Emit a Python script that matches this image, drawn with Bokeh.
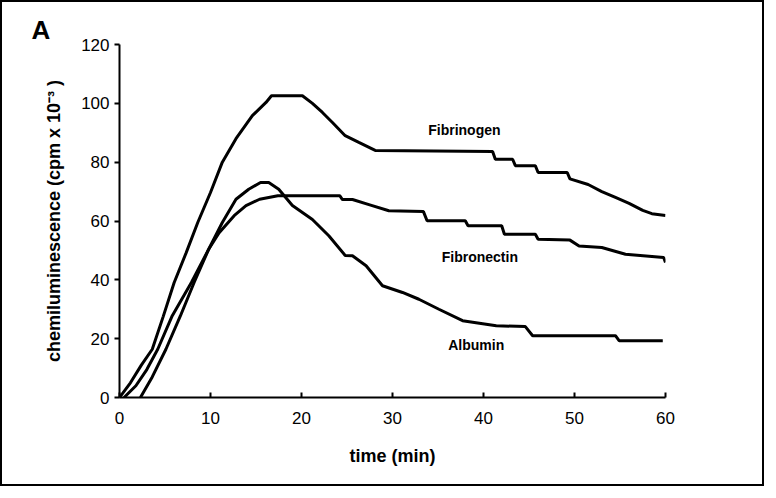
from bokeh.plotting import figure
from bokeh.models import Range1d, FixedTicker, Label
from bokeh.embed import file_html
from bokeh.resources import INLINE

# ---- data ----
fibrinogen_t = [0, 1.2, 2.4, 3.6, 4.8, 6.0, 7.3, 8.6, 10.0, 11.3, 12.8, 14.6, 16.1, 16.7, 20.1,
                21.2, 22.3, 23.4, 24.8, 26.3, 28.1, 41.0, 41.3, 43.2, 43.5, 45.7, 46.0, 49.2,
                49.5, 51.5, 53.0, 54.5, 56.0, 57.5, 58.5, 60.0]
fibrinogen_v = [0, 5, 11, 16.4, 27.5, 39, 49, 59.5, 69.7, 80, 88, 95.8, 100.3, 102.6, 102.6,
                100, 96.9, 93.5, 89, 86.7, 84, 83.6, 81, 81, 78.8, 78.8, 76.5, 76.5,
                74.3, 72.4, 70, 68, 66, 63.6, 62.5, 61.9]

fibronectin_t = [2.3, 3.6, 5.1, 6.7, 8.2, 9.8, 10.95, 12.6, 13.9, 15.4, 17.4, 24.2, 24.5,
                 25.6, 27.5, 29.6, 33.4, 33.8, 38.0, 38.3, 42.0, 42.3, 45.7, 46.0, 49.5,
                 50.5, 53.0, 55.6, 59.8, 60.0]
fibronectin_v = [0, 7, 16.4, 27.8, 39.1, 50.4, 56, 61.8, 65.2, 67.4, 68.6, 68.6, 67.3,
                 67.3, 65.5, 63.5, 63.2, 60.1, 60.1, 58.4, 58.4, 55.5, 55.5, 53.8, 53.5,
                 51.5, 51, 48.7, 47.6, 45.9]

albumin_t = [0.5, 1.8, 3.0, 4.2, 5.8, 7.9, 9.8, 11.3, 12.8, 14.2, 15.5, 16.4, 17.5, 19.0,
             21.2, 23.0, 24.8, 25.6, 27.1, 28.9, 31.1, 32.9, 35.1, 37.7, 41.4, 44.6, 45.4,
             54.5, 54.9, 59.7]
albumin_v = [0, 4, 9.5, 16.4, 27.8, 39.1, 50.4, 59.5, 67.4, 70.8, 73.1, 73.1, 70.8, 65.3,
             60.5, 55, 48.3, 48.2, 44.8, 38, 35.7, 33.4, 30, 26.1, 24.4, 24.1, 21,
             21, 19.3, 19.3]

x_ticks = [0, 10, 20, 30, 40, 50, 60]
y_ticks = [0, 20, 40, 60, 80, 100, 120]
series_names = ["Fibrinogen", "Fibronectin", "Albumin"]

FONT = "Liberation Sans"

p = figure(width=764, height=486, output_backend="svg", toolbar_location=None,
           x_range=Range1d(0, 60), y_range=Range1d(0, 120),
           min_border_left=117, min_border_right=101, min_border_top=42,
           min_border_bottom=91)
p.styles = {"border": "2px solid black"}
p.outline_line_color = None
p.grid.visible = False
p.background_fill_color = "white"
p.border_fill_color = "white"

p.title.text = "A"
p.title.text_font = FONT
p.title.text_font_style = "bold"
p.title.text_font_size = "26px"
p.title.text_color = "black"
p.title.align = "left"
p.title.offset = -88
p.title.standoff = 0

for t, v in [(fibrinogen_t, fibrinogen_v), (fibronectin_t, fibronectin_v), (albumin_t, albumin_v)]:
    p.line(t, v, line_color="black", line_width=3)

xa = p.xaxis[0]
xa.ticker = FixedTicker(ticks=x_ticks)
xa.axis_line_width = 2
xa.major_tick_in = 5
xa.major_tick_out = 0
xa.major_tick_line_width = 2
xa.minor_tick_line_color = None
xa.major_label_text_font = FONT
xa.major_label_text_font_size = "17px"
xa.major_label_text_color = "black"
xa.major_label_standoff = 14
xa.axis_label = "time (min)"
xa.axis_label_text_font = FONT
xa.axis_label_text_font_style = "bold"
xa.axis_label_text_font_size = "18px"
xa.axis_label_text_color = "black"
xa.axis_label_standoff = 19

ya = p.yaxis[0]
ya.ticker = FixedTicker(ticks=y_ticks)
ya.axis_line_width = 2
ya.major_tick_in = 0
ya.major_tick_out = 5
ya.major_tick_line_width = 2
ya.minor_tick_line_color = None
ya.major_label_text_font = FONT
ya.major_label_text_font_size = "17px"
ya.major_label_text_color = "black"
ya.major_label_standoff = 5
ya.axis_label = "chemiluminescence (cpm x 10\u207b\u00b3 )"
ya.axis_label_text_font = FONT
ya.axis_label_text_font_style = "bold"
ya.axis_label_text_font_size = "18px"
ya.axis_label_text_color = "black"
ya.axis_label_standoff = 14

label_pos = [(37.9, 90.8), (39.6, 47.6), (39.2, 17.7)]
for name, (lx, ly) in zip(series_names, label_pos):
    p.add_layout(Label(x=lx, y=ly, text=name, text_font=FONT, text_font_style="bold",
                       text_font_size="14px", text_align="center", text_baseline="middle",
                       text_color="black"))

open("out.html", "w").write(file_html(p, INLINE))
